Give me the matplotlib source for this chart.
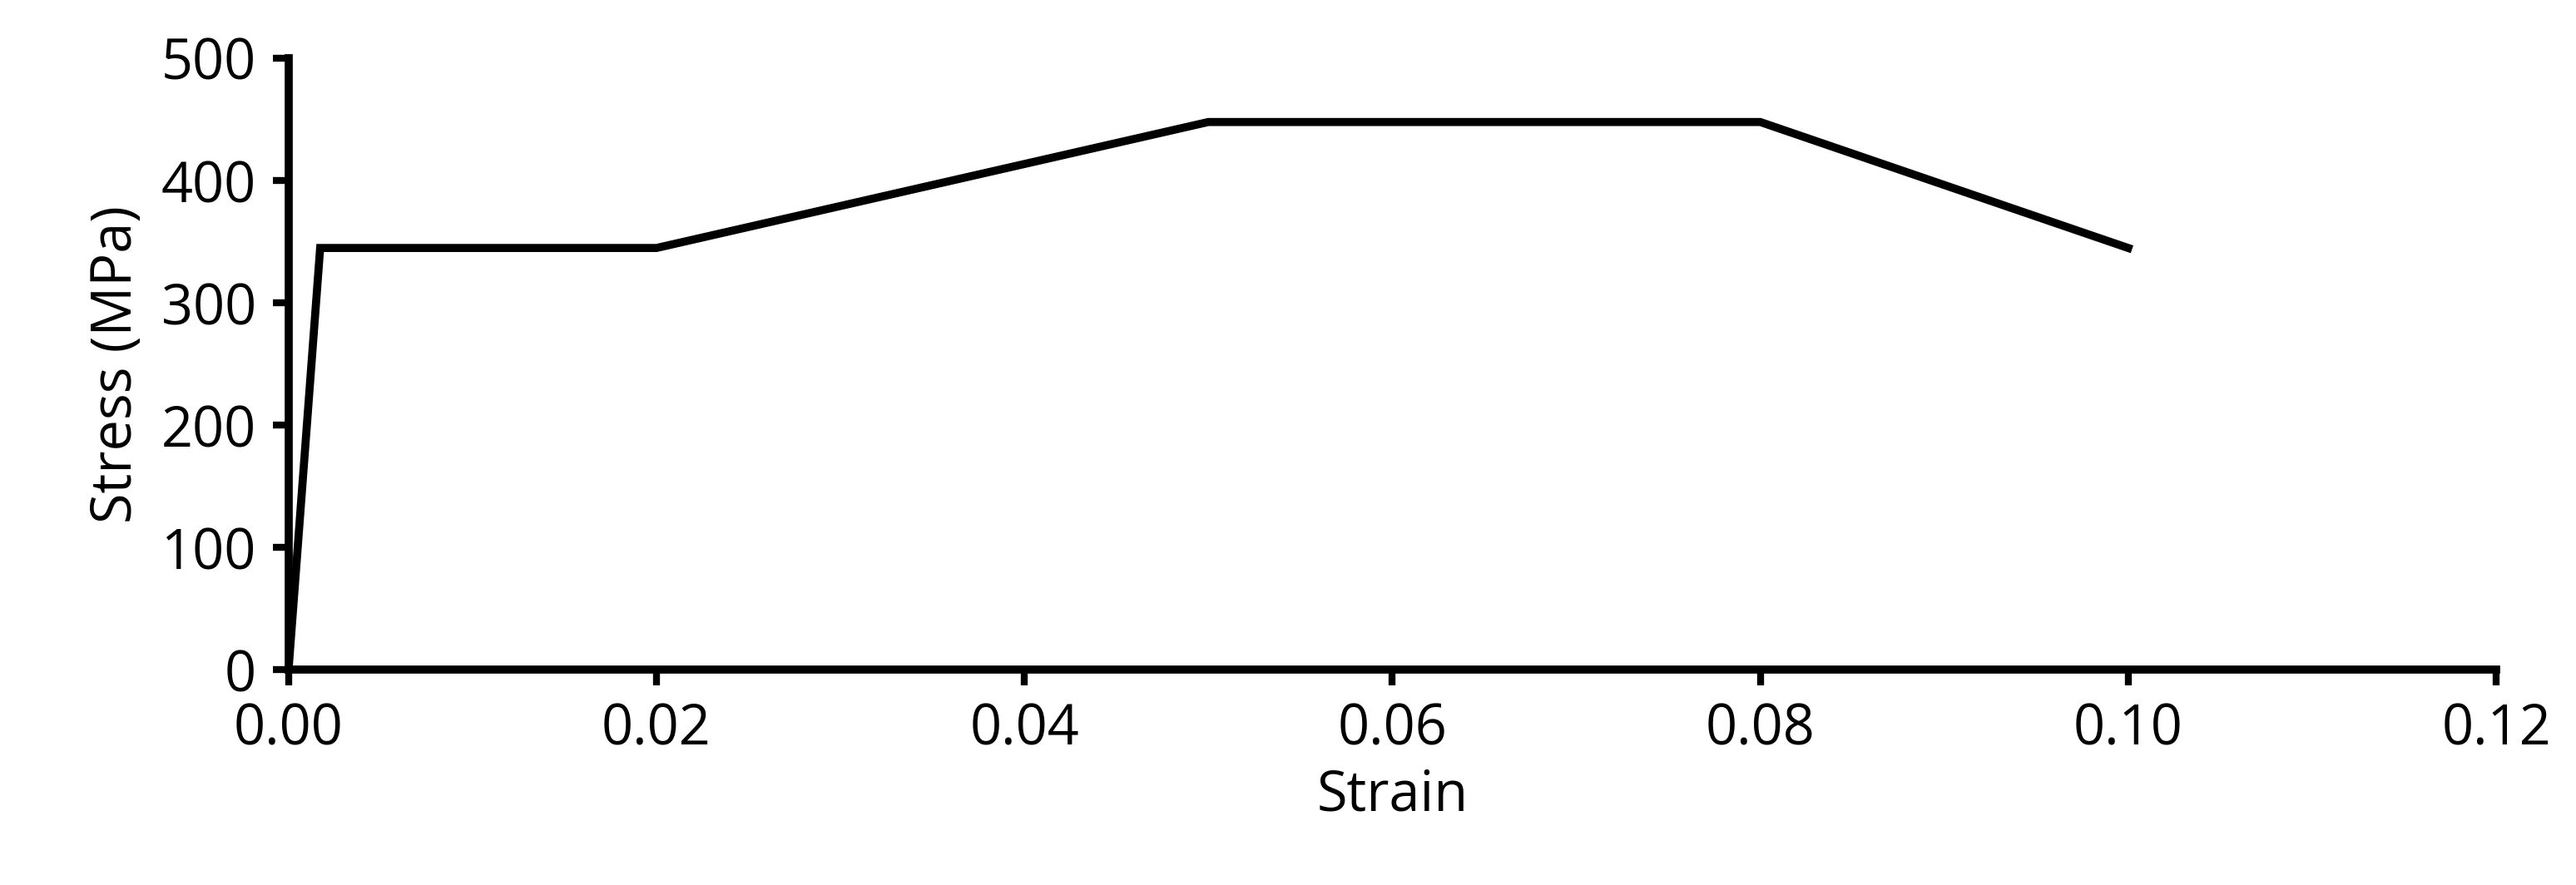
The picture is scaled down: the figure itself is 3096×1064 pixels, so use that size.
import matplotlib.pyplot as plt

strain = [0.0, 0.00172, 0.02, 0.05, 0.08, 0.10]
stress = [0, 345, 345, 448, 448, 345]
xticks = [0.00, 0.02, 0.04, 0.06, 0.08, 0.10, 0.12]
yticks = [0, 100, 200, 300, 400, 500]

plt.rcParams['font.family'] = ['Open Sans', 'DejaVu Sans']
fig = plt.figure(figsize=(30.96, 10.64), dpi=100)
ax = fig.add_axes([0.112, 0.243, 0.857, 0.691])
ax.plot(strain, stress, color='black', lw=7, solid_joinstyle='miter')
ax.set_xlim(0, 0.12)
ax.set_ylim(0, 500)
ax.set_xticks(xticks)
ax.set_xticklabels([f"{t:.2f}" for t in xticks])
ax.set_yticks(yticks)
for s in ['top', 'right']:
    ax.spines[s].set_visible(False)
for s in ['left', 'bottom']:
    ax.spines[s].set_linewidth(7)
ax.tick_params(width=6, length=14, labelsize=48, direction='out', pad=14)
ax.set_xlabel("Strain", fontsize=48, labelpad=8)
ax.set_ylabel("Stress (MPa)", fontsize=48, labelpad=14)
fig.savefig("out.png", dpi=100)
